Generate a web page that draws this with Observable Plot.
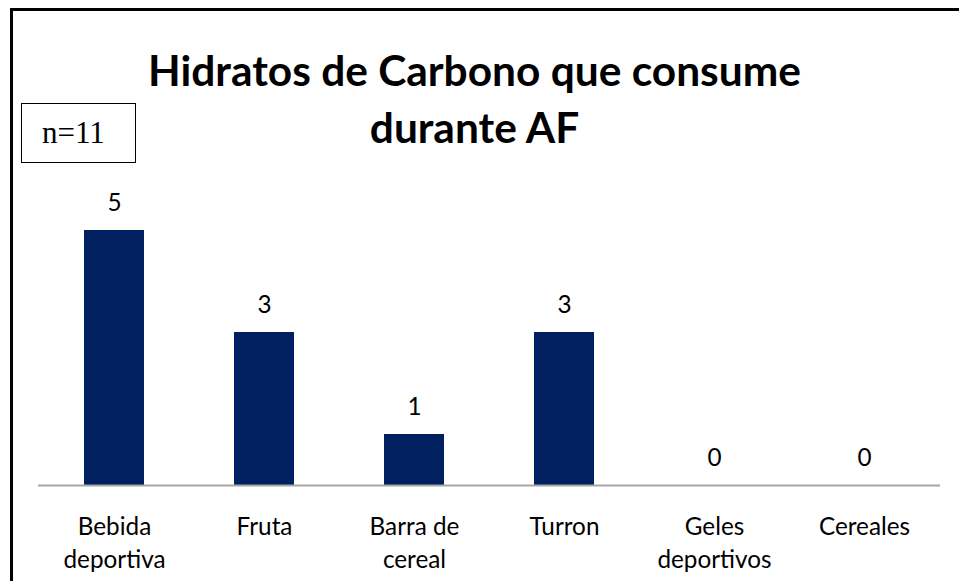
<!DOCTYPE html>
<html><head><meta charset="utf-8">
<script src="https://cdn.jsdelivr.net/npm/d3@7"></script>
<script src="https://cdn.jsdelivr.net/npm/@observablehq/plot@0.6"></script>
<style>
html,body{margin:0;padding:0;background:#fff;}
#fig{position:relative;width:959px;height:581px;overflow:hidden;background:#fff;}
#frameTop{position:absolute;left:10px;top:8px;right:0;height:3px;background:#000;}
#frameLeft{position:absolute;left:10px;top:8px;bottom:0;width:3px;background:#000;}
#nbox{position:absolute;left:21px;top:103px;width:115px;height:60px;box-sizing:border-box;border:1px solid #000;
 display:flex;align-items:center;padding-left:20px;font-family:"Liberation Serif",serif;color:#000;}
#fig svg{position:absolute;left:0;top:0;}
</style>
</head><body>
<div id="fig"><div id="frameTop"></div><div id="frameLeft"></div><div id="nbox">n=11</div></div>
<script>
const categories = ["Bebida deportiva","Fruta","Barra de cereal","Turron","Geles deportivos","Cereales"];
const tickLabels = ["Bebida\ndeportiva","Fruta","Barra de\ncereal","Turron","Geles\ndeportivos","Cereales"];
const values = [5,3,1,3,0,0];
const titleLines = ["Hidratos de Carbono que consume","durante AF"];
const sampleLabel = "n=11";

const data = categories.map((c,i)=>({cat:c,value:values[i],label:tickLabels[i]}));

function fit(text, family, weight, target){
  const c = document.createElement("canvas").getContext("2d");
  c.font = `${weight} 100px ${family}`;
  return 100*target/c.measureText(text).width;
}
const FONT = "Lato";
const titleFs = fit(titleLines[0], FONT, "bold", 653);
const labelFs = fit("deportiva", FONT, "normal", 102);
const nFs = Math.min(31, fit(sampleLabel, '"Liberation Serif"', "normal", 64));
document.getElementById("nbox").style.fontSize = nFs + "px";

const mt = 179, mb = 96, ml = 38, mr = 19, H = 581, W = 959;
const base = H - mb; // 485

const chart = Plot.plot({
  width: W, height: H,
  marginTop: mt, marginBottom: mb, marginLeft: ml, marginRight: mr,
  style: {background: "transparent", fontFamily: FONT, color: "#000"},
  x: {domain: categories, paddingInner: 0.6, paddingOuter: 0.3, axis: null},
  y: {domain: [0, 6], axis: null},
  marks: [
    Plot.barY(data, {x: "cat", y: "value", fill: "#002060"}),
    Plot.ruleY([0], {stroke: "#a6a6a6", strokeWidth: 2}),
    Plot.text(data, {x: "cat", y: "value", text: d => String(d.value),
      dy: -19 - 0.35*labelFs, fontSize: labelFs, fill: "#000"}),
    Plot.text(data, {x: "cat", y: 0, text: "label", lineAnchor: "top",
      dy: 528 - base - 0.71*labelFs, fontSize: labelFs, lineHeight: 33/labelFs, fill: "#000"}),
    Plot.text([titleLines.join("\n")], {frameAnchor: "top", text: d => d, lineAnchor: "top",
      dx: 474 - (ml + (W - ml - mr)/2), dy: 75 - mt - 0.71*titleFs,
      fontSize: titleFs, fontWeight: "bold", lineHeight: 57/titleFs, fill: "#000"})
  ]
});
chart.style.overflow = "visible";
document.getElementById("fig").appendChild(chart);
</script>
</body></html>
